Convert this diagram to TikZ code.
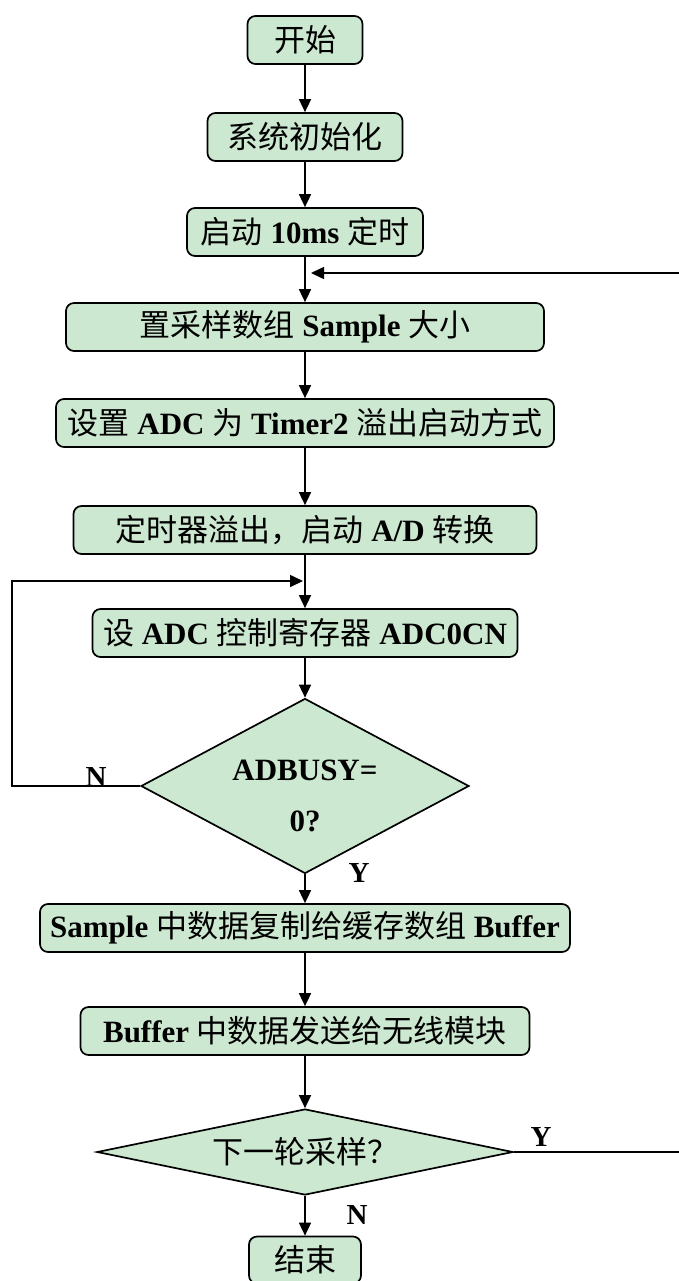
\documentclass[tikz,border=0pt]{standalone}
\usepackage{fontspec}
\setmainfont{Liberation Serif}
\newfontfamily\cjkfont{Noto Sans CJK SC}
\usetikzlibrary{shapes.geometric,arrows.meta}
\newcommand\zhc[1]{{\cjkfont\fontsize{31}{36}\selectfont #1}}
\newcommand\enb[1]{{\bfseries #1}}
\definecolor{boxgreen}{RGB}{205,232,208}
\tikzset{
  basefont/.style={font=\fontsize{31}{36}\selectfont},
  stepbox/.style={basefont, draw=black, line width=1.7pt, fill=boxgreen,
    rounded corners=8pt, inner sep=0pt, minimum height=48pt, text=black},
  decision/.style={basefont, diamond, draw=black, line width=1.7pt, fill=boxgreen,
    inner sep=0pt, align=center},
  arr/.style={line width=1.6pt, -{Triangle[length=13pt,width=12pt]}},
  lbl/.style={font=\fontsize{29}{34}\selectfont\bfseries, inner sep=0pt},
  dtext/.style={font=\fontsize{31}{36}\selectfont\bfseries, inner sep=0pt, align=center},
}
\begin{document}
\begin{tikzpicture}[x=1pt,y=-1pt]
\useasboundingbox (0,0) rectangle (678,1281);

\node[stepbox, minimum width=115pt] (start) at (305,40) {\zhc{开始}};
\node[stepbox, minimum width=195pt] (init) at (305,137) {\zhc{系统初始化}};
\node[stepbox, minimum width=236pt] (timer) at (305,232) {\zhc{启动} \enb{10ms} \zhc{定时}};
\node[stepbox, minimum width=478pt] (size) at (305,327) {\zhc{置采样数组} \enb{Sample} \zhc{大小}};
\node[stepbox, minimum width=498pt] (mode) at (305,423) {\zhc{设置} \enb{ADC} \zhc{为} \enb{Timer2} \zhc{溢出启动方式}};
\node[stepbox, minimum width=463pt] (ovf) at (305,530) {\zhc{定时器溢出，启动} \enb{A/D} \zhc{转换}};
\node[stepbox, minimum width=425pt] (ctrl) at (305,633) {\zhc{设} \enb{ADC} \zhc{控制寄存器} \enb{ADC0CN}};
\node[decision, shape aspect=1.87, minimum width=328pt, minimum height=175pt] (busy) at (305,786) {};
\node[dtext] (busytxt) at (305,796) {ADBUSY=\\[15pt]0?};
\node[stepbox, minimum width=530pt] (copy) at (305,928) {\enb{Sample} \zhc{中数据复制给缓存数组} \enb{Buffer}};
\node[stepbox, minimum width=449pt] (send) at (305,1031) {\enb{Buffer} \zhc{中数据发送给无线模块}};
\node[decision, shape aspect=4.8, minimum width=416pt, minimum height=86pt] (next) at (305,1152)
  {\zhc{下一轮采样？}};
\node[stepbox, minimum width=112pt, minimum height=47pt] (stop) at (305,1260) {\zhc{结束}};

\coordinate (loopR) at (681,273);
\coordinate (inR) at (311,273);
\coordinate (loopL) at (12,581);
\coordinate (inL) at (303,581);

\draw[arr] (start) -- (init);
\draw[arr] (init) -- (timer);
\draw[arr] (timer) -- (size);
\draw[arr] (size) -- (mode);
\draw[arr] (mode) -- (ovf);
\draw[arr] (ovf) -- (ctrl);
\draw[arr] (ctrl) -- (busy);
\draw[arr] (busy) -- (copy);
\draw[arr] (copy) -- (send);
\draw[arr] (send) -- (next);
\draw[arr] (next) -- (stop);

\draw[arr] (next.east) -| (loopR) -- (inR);
\draw[arr] (busy.west) -| (loopL) -- (inL);

\node[lbl] (nA) at (96,777) {N};
\node[lbl] (yA) at (359,873) {Y};
\node[lbl] (yB) at (541,1137) {Y};
\node[lbl] (nB) at (357,1215) {N};
\end{tikzpicture}
\end{document}
